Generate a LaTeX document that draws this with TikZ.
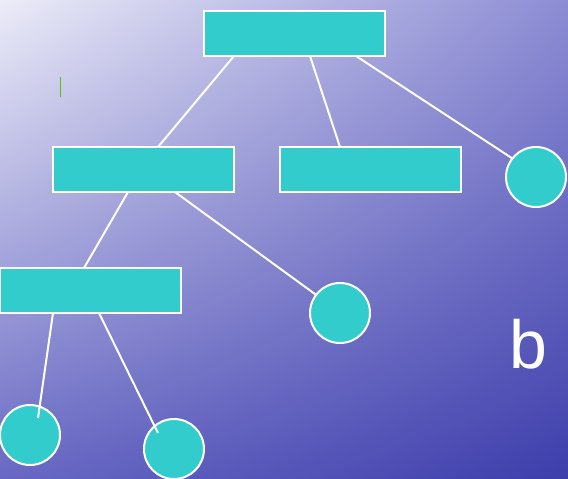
\documentclass[tikz,border=0pt]{standalone}
\usepackage{fontspec}
\setsansfont{Liberation Sans}
\usetikzlibrary{shadings,calc}
\definecolor{boxfill}{RGB}{51,204,204}
\definecolor{bgTL}{RGB}{236,236,248}
\definecolor{bgTR}{RGB}{140,140,212}
\definecolor{bgBL}{RGB}{104,104,196}
\definecolor{bgBR}{RGB}{62,62,172}
\definecolor{tick}{RGB}{90,190,20}
\tikzset{
  rectbox/.style={draw=white, line width=2pt, fill=boxfill, minimum width=181pt, minimum height=45pt, inner sep=0pt, outer sep=0pt},
  circbox/.style={draw=white, line width=2pt, fill=boxfill, circle, minimum size=60pt, inner sep=0pt, outer sep=0pt},
  link/.style={draw=white, line width=2pt}
}
\begin{document}
\begin{tikzpicture}[x=1pt,y=-1pt]
\shade[upper left=bgTL, upper right=bgTR, lower left=bgBL, lower right=bgBR] (0,0) rectangle (568,479);
\useasboundingbox (0,0) rectangle (568,479);
% nodes
\node[rectbox] (top) at (294.5,33.5) {};
\node[rectbox] (ml) at (143,169.5) {};
\node[rectbox] (mr) at (370,169.5) {};
\node[rectbox] (ll) at (90.5,290.5) {};
\coordinate (rc) at (536,177);
\coordinate (mc) at (340,313);
\coordinate (bl) at (30,435);
\coordinate (bm) at (174,449);
% connectors behind circles
\draw[link] ($(top.south west)+(30,0)$) -- ($(ml.north west)+(105.5,0)$);
\draw[link] ($(top.south west)+(106,0)$) -- ($(mr.north west)+(60.5,0)$);
\draw[link] ($(top.south west)+(152,0)$) -- ($(rc)+(-6,-7)$);
\draw[link] ($(ml.south west)+(75.5,0)$) -- ($(ll.north west)+(84,0)$);
\draw[link] ($(ml.south west)+(122.5,0)$) -- ($(mc)+(-10,-8)$);
% circles
\node[circbox] (rcn) at (rc) {};
\node[circbox] (mcn) at (mc) {};
\node[circbox] (bln) at (bl) {};
\node[circbox] (bmn) at (bm) {};
% connectors drawn over bottom circles
\draw[link] ($(ll.south west)+(53,0)$) -- ($(bln.center)+(8,-17)$);
\draw[link] ($(ll.south west)+(99,0)$) -- ($(bmn.center)+(-16,-16)$);
% green tick
\draw[tick, line width=1pt] (60,77) -- (60,97);
% label
\node[text=white, font=\sffamily\fontsize{68}{68}\selectfont, anchor=base, inner sep=0pt] (lb) at (528,368) {b};
\end{tikzpicture}
\end{document}
